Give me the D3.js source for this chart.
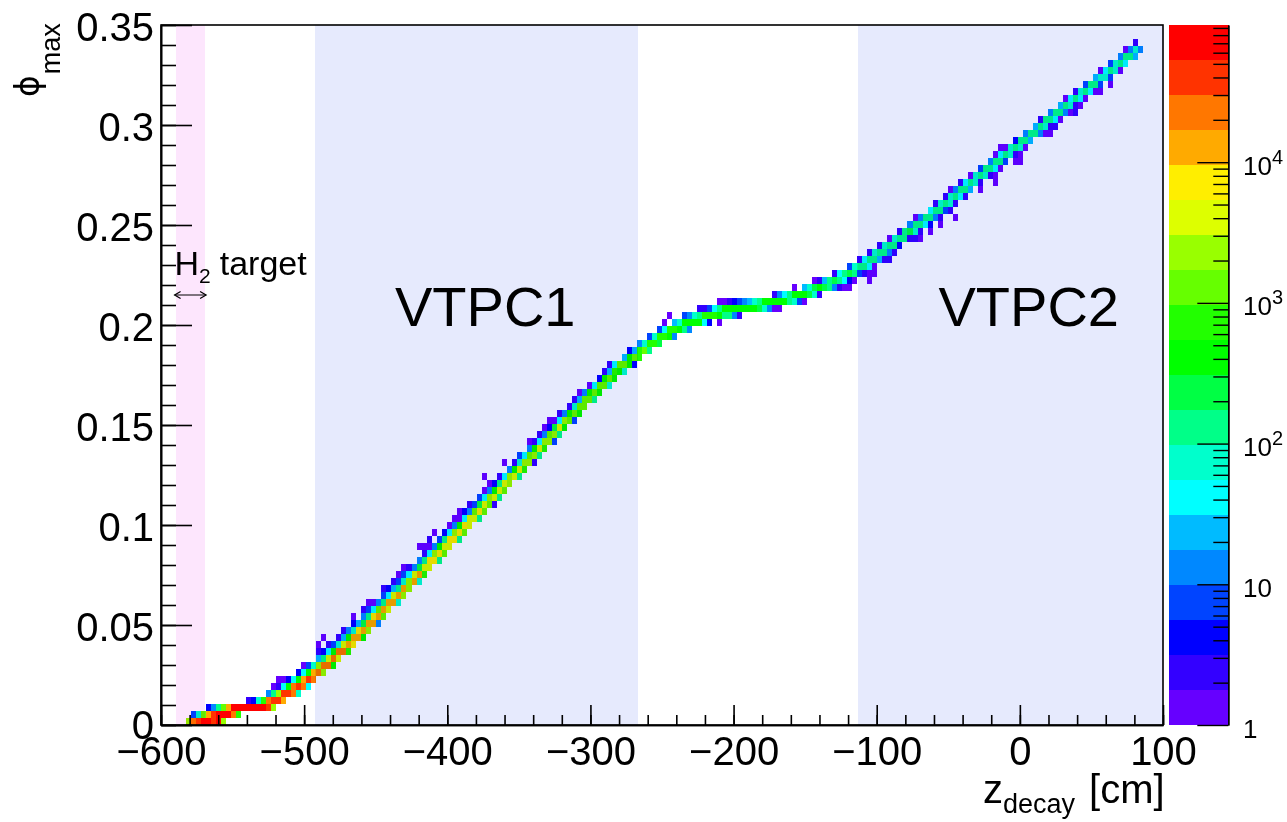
<!DOCTYPE html>
<html><head><meta charset="utf-8">
<script src="https://cdn.jsdelivr.net/npm/d3@7/dist/d3.min.js"></script>
<style>
html,body{margin:0;padding:0;background:#fff}
svg{display:block}
text{font-family:"Liberation Sans",Arial,sans-serif;fill:#000}
</style></head><body>
<svg id="c" width="1287" height="822"></svg>
<script>
const zDomain = [-600, 100];
const phiDomain = [0, 0.35];
const zBinWidth = 3.5;
const phiBinWidth = 0.0035;
const countMax = 94400;
const paletteBands = 20;

// first z bin of each phi row
const rowFirstBin = [5,6,9,17,21,22,23,27,28,31,31,31,32,36,38,38,40,41,44,44,46,47,48,51,52,51,53,54,57,58,59,61,63,64,65,64,69,68,71,73,73,75,76,77,79,81,82,83,85,87,88,89,92,93,95,97,99,100,101,107,111,122,126,130,134,137,139,141,143,145,147,149,150,153,154,156,157,159,161,163,165,166,167,170,172,174,175,177,179,180,182,184,186,187,189,191,192,194];

// counts of each phi row, starting at that first bin; 0 = empty
const rowCounts = [
[2250,22000,39000,70000,70000,39000,70000,2250],
[7,72,1270,12500,39000,70000,70000,70000,22000,720],
[4,13,130,1270,12500,70000,70000,70000,70000,70000,70000,70000,39000,2250],
[2,4,72,720,22000,39000,39000,12500],
[13,130,2250,39000,39000,22000,72],
[1,2,41,400,22000,39000,22000,41],
[1,1,4,41,400,12500,39000,22000],
[4,41,400,12500,22000,2250],
[1,7,72,2250,22000,22000,400],
[23,130,4000,22000,4000],
[2,4,41,400,22000,22000,720],
[1,0,2,7,72,4000,12500,7100],
[1,0,0,2,23,400,12500,12500,400],
[2,13,72,7100,12500,2250],
[4,23,230,12500,12500,13],
[1,0,13,130,7100,12500,1270],
[2,7,41,1270,12500,4000],
[1,1,13,130,12500,12500,72],
[7,41,4000,12500,2250],
[2,4,23,130,12500,2250],
[2,7,72,2250,12500,72],
[1,7,41,4000,12500,720],
[1,2,13,230,4000,4000],
[13,130,7100,7100,130],
[2,41,2250,7100,1270],
[1,1,1,13,400,4000,4000],
[2,0,7,130,7100,7100,130],
[1,0,4,41,2250,7100,1270],
[1,13,400,7100,4000],
[1,1,41,4000,4000,130],
[1,4,13,1270,7100,1270],
[2,7,230,4000,1270,2],
[7,41,2250,4000,130],
[1,13,400,4000,1270],
[1,4,130,4000,2250],
[1,0,0,2,41,2250,4000,130],
[13,400,4000,720],
[1,0,2,72,2250,2250,2],
[7,41,1270,2250,130],
[13,400,4000,720],
[1,2,41,2250,2250,7],
[2,13,1270,2250,130],
[1,4,230,4000,400],
[1,1,41,2250,1270,7],
[2,13,400,1270,400],
[2,72,1270,1270],
[2,23,1270,1270,130],
[1,13,400,1270,400],
[1,41,1270,1270,72],
[4,400,1270,400],
[2,23,720,400,72],
[2,41,1270,1270,400,4],
[23,400,1270,720],
[4,23,720,1270,130],
[13,72,720,720,230],
[7,72,720,720,400,13],
[7,41,720,720,400,130,13],
[1,0,23,72,400,400,400,400,41,4,0,1],
[1,0,0,7,13,72,130,720,720,720,400,130,130,13,2],
[2,2,7,41,130,400,400,400,400,400,400,400,230,72,13,1,1],
[1,1,2,4,7,13,23,72,130,400,400,400,400,400,130,72,7,1],
[2,13,41,130,400,400,400,230,72,2],
[1,0,23,72,230,400,230,130,13,2,1,1],
[1,2,23,130,230,130,41,4,1,0,0,1],
[2,41,130,230,130,7,2,1,1],
[7,72,130,130,41,1],
[2,41,130,130,23,2,2],
[2,72,130,130,13,2],
[2,72,130,130,4],
[1,72,130,130,2,2,1],
[2,130,230,72,2,0,1],
[13,130,130,41,4,0,1],
[1,13,130,130,13,2,0,0,1],
[41,130,130,7,2],
[2,72,130,72,2],
[2,72,130,41,2],
[1,13,130,130,23,0,1],
[2,41,130,72,2,0,0,1],
[1,72,130,72,2,1],
[7,130,130,41,1],
[13,130,130,7,0,1,1],
[1,41,130,72,2,1],
[1,1,72,130,72,1],
[4,130,130,23],
[13,130,130,13,1,1],
[23,130,72,2,2],
[2,130,130,41,1],
[13,130,130,13,1,2],
[23,130,72,2,1],
[1,41,130,41,1],
[2,72,130,41,1,1],
[7,130,130,7,0,1],
[23,72,72,7],
[1,41,130,72,1],
[7,72,130,41],
[13,130,130,23],
[1,13,72,13],
[2]
];

const palette = ["#6600ff","#3300ff","#0000ff","#0044ff","#0088ff","#00bbff","#00ffff","#00ffcc","#00ff88","#00ff44","#00ff00","#22ff00","#66ff00","#99ff00","#ddff00","#ffee00","#ffaa00","#ff7700","#ff3300","#ff0000"];

const detectorNames = ["target","VTPC1","VTPC2"];
const detectorStart = [-589.5,-492.4,-113];
const detectorEnd = [-569.5,-266.8,100];
const detectorFill = ["#fde6fd","#e6eafd","#e6eafd"];

const zTicks = [-600,-500,-400,-300,-200,-100,0,100];
const zMinorTicks = d3.range(-600,101,20);
const phiTicks = [0,0.05,0.1,0.15,0.2,0.25,0.3,0.35];
const phiMinorTicks = d3.range(0,36).map(d=>d/100);
const countDecades = [1,10,100,1000,10000];
const countExponentLabels = ["1","10","10","10","10"];
const countExponents = ["","","2","3","4"];
const countMinorTicks = [2,3,4,5,6,7,8,9,20,30,40,50,60,70,80,90,200,300,400,500,600,700,800,900,2000,3000,4000,5000,6000,7000,8000,9000,20000,30000,40000,50000,60000,70000,80000,90000];

const svg = d3.select("#c");
const x = d3.scaleLinear().domain(zDomain).range([161,1163]);
const y = d3.scaleLinear().domain(phiDomain).range([725,25]);
const cbY = d3.scaleLog().domain([1,countMax]).range([725,25]);
const logMax = Math.log10(countMax);
const color = d3.scaleQuantize().domain([0,logMax]).range(palette);

// cells
const cells = [];
rowCounts.forEach((row,j)=>row.forEach((c,k)=>{ if(c>0) cells.push({bin:rowFirstBin[j]+k,row:j,c}); }));
svg.append("g").attr("shape-rendering","crispEdges").selectAll("rect").data(cells).join("rect")
  .attr("x",d=>x(zDomain[0]+d.bin*zBinWidth))
  .attr("width",d=>x(zDomain[0]+(d.bin+1)*zBinWidth)-x(zDomain[0]+d.bin*zBinWidth))
  .attr("y",d=>y((d.row+1)*phiBinWidth))
  .attr("height",d=>y(d.row*phiBinWidth)-y((d.row+1)*phiBinWidth))
  .attr("fill",d=>color(Math.log10(d.c)));

// detector bands, tinting what lies below
svg.append("g").attr("shape-rendering","crispEdges").selectAll("rect").data(detectorNames).join("rect")
  .attr("x",(d,i)=>x(detectorStart[i]))
  .attr("width",(d,i)=>x(detectorEnd[i])-x(detectorStart[i]))
  .attr("y",y(phiDomain[1])).attr("height",y(phiDomain[0])-y(phiDomain[1]))
  .attr("fill",(d,i)=>detectorFill[i])
  .style("mix-blend-mode","multiply");

function styleAxis(g,w){
  g.selectAll("path").attr("stroke","#000").attr("stroke-width",w);
  g.selectAll("line").attr("stroke","#000").attr("stroke-width",w);
}
// bottom axis (ticks point inwards)
const gx = svg.append("g").attr("transform","translate(0,725)");
gx.append("g").call(d3.axisBottom(x).tickValues(zMinorTicks).tickSize(-10).tickSizeOuter(0).tickFormat("")).call(g=>styleAxis(g,1.6));
const gxm = gx.append("g").call(d3.axisBottom(x).tickValues(zTicks).tickSize(-20).tickSizeOuter(0).tickFormat(d3.format("d"))).call(g=>styleAxis(g,1.6));
gxm.selectAll("text").attr("y",40).attr("dy",0).attr("font-size",40).attr("font-family","Liberation Sans").attr("fill","#000");

// left axis
const gy = svg.append("g").attr("transform","translate(161,0)");
gy.append("g").call(d3.axisLeft(y).tickValues(phiMinorTicks).tickSize(-15).tickSizeOuter(0).tickFormat("")).call(g=>styleAxis(g,1.6));
const gym = gy.append("g").call(d3.axisLeft(y).tickValues(phiTicks).tickSize(-31).tickSizeOuter(0).tickFormat(d3.format("~g"))).call(g=>styleAxis(g,1.6));
gym.selectAll("text").attr("x",-7).attr("dy",d=>d===0?13:15).attr("font-size",40).attr("font-family","Liberation Sans").attr("fill","#000");

// frame
svg.append("rect").attr("x",161).attr("y",25).attr("width",1002).attr("height",700).attr("fill","none").attr("stroke","#000").attr("stroke-width",1.6);

// axis titles
const xt = svg.append("text").attr("x",983).attr("y",803).attr("font-size",40);
xt.append("tspan").text("z");
xt.append("tspan").attr("font-size",27).attr("dy",10).text("decay");
xt.append("tspan").attr("dy",-10).attr("dx",14).text("[cm]");

const yt = svg.append("text").attr("transform","translate(39,97) rotate(-90)").attr("font-size",40);
yt.append("tspan").style("font-family","DejaVu Sans").attr("font-size",33).text("\u03d5");
yt.append("tspan").attr("font-size",27).attr("dy",21).attr("dx",1).text("max");

// colour bar
const cb = svg.append("g");
cb.append("g").attr("shape-rendering","crispEdges").selectAll("rect").data(palette).join("rect")
  .attr("x",1169).attr("width",59.5)
  .attr("y",(d,i)=>cbY(Math.pow(10,(i+1)*logMax/paletteBands)))
  .attr("height",(d,i)=>cbY(Math.pow(10,i*logMax/paletteBands))-cbY(Math.pow(10,(i+1)*logMax/paletteBands)))
  .attr("fill",d=>d);
const ca = svg.append("g").attr("transform","translate(1228.3,0)");
ca.append("g").call(d3.axisLeft(cbY).tickValues(countMinorTicks).tickSize(15).tickSizeOuter(0).tickFormat("")).call(g=>styleAxis(g,1.4));
ca.append("g").call(d3.axisLeft(cbY).tickValues(countDecades).tickSize(31).tickSizeOuter(0).tickFormat("")).call(g=>styleAxis(g,1.4));
countDecades.forEach((d,i)=>{
  const t = svg.append("text").attr("x",1243).attr("y",cbY(d)+12.5).attr("font-size",26);
  t.append("tspan").text(countExponentLabels[i]);
  if(countExponents[i]) t.append("tspan").attr("font-size",20).attr("dy",-11).text(countExponents[i]);
});

// annotations
svg.append("text").attr("x",395).attr("y",326).attr("font-size",56).text("VTPC1");
svg.append("text").attr("x",938.5).attr("y",326).attr("font-size",56).text("VTPC2");
const h2 = svg.append("text").attr("x",174.5).attr("y",275).attr("font-size",34);
h2.append("tspan").text("H");
h2.append("tspan").attr("font-size",21).attr("dy",8).text("2");
h2.append("tspan").attr("dy",-8).attr("dx",9).text("target");
const arrowY = y(0.215);
const arrowStart = x(detectorStart[0]-1), arrowEnd = x(detectorEnd[0]+1);
const arrow = svg.append("g").attr("fill","none").attr("stroke","#000").attr("stroke-width",1.2);
arrow.append("line").attr("x1",arrowStart).attr("x2",arrowEnd).attr("y1",arrowY).attr("y2",arrowY);
arrow.append("path").attr("d",d3.line()([[arrowStart+6,arrowY-3.5],[arrowStart,arrowY],[arrowStart+6,arrowY+3.5]]));
arrow.append("path").attr("d",d3.line()([[arrowEnd-6,arrowY-3.5],[arrowEnd,arrowY],[arrowEnd-6,arrowY+3.5]]));
</script>
</body></html>
